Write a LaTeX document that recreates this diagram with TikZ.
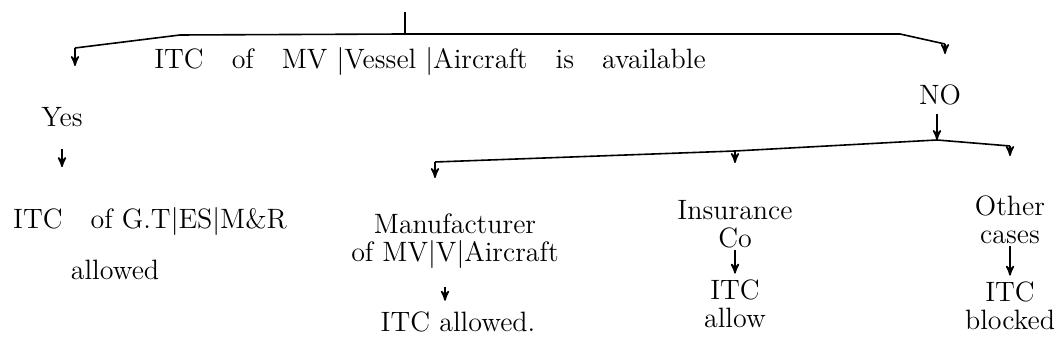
\documentclass[tikz,border=0pt]{standalone}
\usepackage{tikz}
\usetikzlibrary{arrows,positioning}
\tikzset{
  >=stealth',
  txt/.style={font=\fontsize{14}{14}\selectfont, inner sep=1pt, align=center},
  line/.style={draw, thick},
  tick/.style={draw, thick, ->, shorten >=2pt}
}
\begin{document}
\begin{tikzpicture}[x=0.5pt,y=-0.5pt]
    \useasboundingbox (0,0) rectangle (1059,356);
    % Draw top bracket
    \coordinate (root) at (405,12);
    \coordinate (top) at (405,34);
    \coordinate (yesend) at (75,48);
    \coordinate (noend) at (945,44);
    \draw [line] (root) -- (top);
    \draw [line] (yesend) -- (180,35) -- (top) -- (900,34) -- (noend);
    \node (question) at (430,62) [txt] {ITC\quad of\quad MV |Vessel |Aircraft\quad is\quad available};
    % Yes side
    \node (yes) at (62,117) [txt] {Yes};
    \node (yesitc) at (150,222) [txt] {ITC\quad of G.T|ES|M\&R};
    \node (yesallow) at (115,270) [txt] {allowed};
    \draw [tick] (yesend) -- ++(0,22);
    \draw [tick] ([yshift=-10pt]yes.south) -- ++(0,22);
    % No side
    \node (no) at (940,95) [txt] {NO};
    \draw [tick] (noend) -- ++(0,14);
    \coordinate (split) at (937,140);
    \draw [tick, shorten >=0pt] ([xshift=-1.5pt,yshift=-3pt]no.south) -- (split);
    \coordinate (mfend) at (435,162);
    \coordinate (insend) at (735,151);
    \coordinate (othend) at (1010,146);
    \draw [line] (mfend) -- (insend) -- (split) -- (othend);
    \node (mf) at (455,241) [txt] {Manufacturer\\of MV|V|Aircraft};
    \node (mfitc) at (458,322) [txt] {ITC allowed.};
    \node (ins) at (735,224) [txt] {Insurance\\Co};
    \node (insitc) at (735,304) [txt] {ITC\\allow};
    \node (oth) at (1010,220) [txt] {Other\\cases};
    \node (othitc) at (1010,306) [txt] {ITC\\blocked};
    \draw [tick] (mfend) -- ++(0,20);
    \draw [tick] (insend) -- ++(0,16);
    \draw [tick] (othend) -- ++(0,14);
    \draw [tick] ([xshift=-5pt,yshift=-8pt]mf.south) -- ++(0,18);
    \draw [tick] (ins.south) -- (ins.south |- insitc.north);
    \draw [tick] (oth.south) -- (oth.south |- othitc.north);
\end{tikzpicture}
\end{document}
